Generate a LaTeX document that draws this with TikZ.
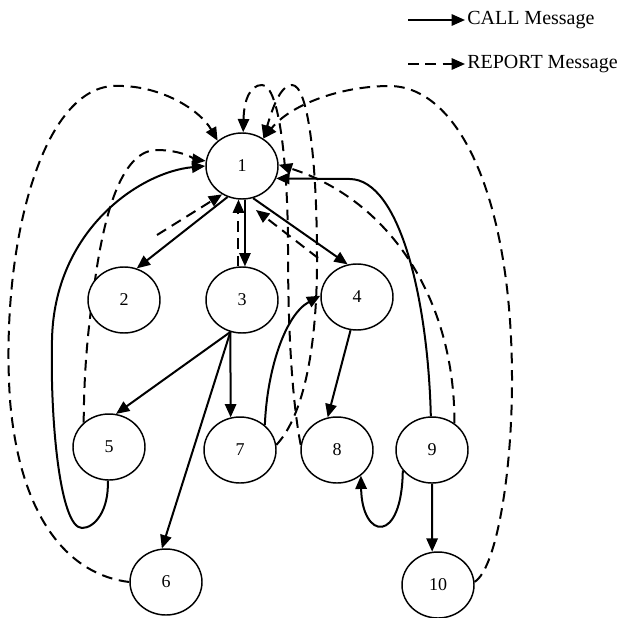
\documentclass[tikz,border=0pt]{standalone}
\usepackage{fontspec}
\setmainfont{Liberation Serif}
\usetikzlibrary{arrows.meta,shapes,positioning,calc}
\pgfdeclarelayer{bg}
\pgfsetlayers{bg,main}
\begin{document}
\begin{tikzpicture}[x=0.75pt, y=-0.75pt,
  proc/.style={ellipse, draw, line width=1.1pt, fill=white, minimum width=54pt, minimum height=49.5pt, inner sep=0pt, font=\fontsize{13.5}{16}\selectfont},
  callarrow/.style={-{Triangle[length=10pt,width=8.5pt]}, line width=1.5pt},
  reportarrow/.style={callarrow, dash pattern=on 8pt off 5pt},
  legendtxt/.style={anchor=west, inner sep=1.5pt, font=\fontsize{15}{18}\selectfont}]
\useasboundingbox (0,0) rectangle (627,617);

% processes
\node[proc] (n1) at (242,166) {1};
\node[proc] (n2) at (124,300) {2};
\node[proc] (n3) at (242,300) {3};
\node[proc] (n4) at (357,297) {4};
\node[proc] (n5) at (109,447) {5};
\node[proc] (n6) at (166,582) {6};
\node[proc] (n7) at (240,450) {7};
\node[proc] (n8) at (337,450) {8};
\node[proc] (n9) at (432,450) {9};
\node[proc] (n10) at (438,585) {10};

% legend
\coordinate (callstart) at (408,20);
\node[legendtxt] (calltxt) at (465,20) {CALL Message};
\coordinate (repstart) at (408,64);
\node[legendtxt] (reptxt) at (465,64) {REPORT Message};

\coordinate (r2a) at (157,235);
\coordinate (r4a) at (318,258);
\coordinate (r4b) at (256,210);

\begin{pgfonlayer}{bg}
\fill[white] (0,0) rectangle (627,617);
% CALL messages
\draw[callarrow] (callstart) -- (calltxt.west);
\draw[callarrow] (n1.245) -- (n2.68);
\draw[callarrow] (n1.275) -- (n3.85);
\draw[callarrow] (n1.289) -- (n4.106);
\draw[callarrow] (n3.250) -- (n5.78);
\draw[callarrow] (n3.250) -- (n7.106);
\draw[callarrow] (n3.250) -- (n6.97);
\draw[callarrow] (n4.259) -- (n8.106);
\draw[callarrow] (n7.45) .. controls (267,370) and (285,315) .. (n4.178);
\draw[callarrow] (n5.268) .. controls (109,510) and (95,528) .. (82,528) .. controls (60,528) and (50,420) .. (52,340) .. controls (54,230) and (140,172) .. (n1.180);
\draw[callarrow] (n9.215) .. controls (402,545) and (362,540) .. (n8.313);
\draw[callarrow] (n9.270) -- (n10.100);
\draw[callarrow] (n9.92) .. controls (428,300) and (400,180) .. (350,179) -- (n1.340);

% REPORT messages
\draw[reportarrow] (repstart) -- (reptxt.west);
\draw[reportarrow] (r2a) -- (n1.235);
\draw[reportarrow] (n3.96) -- (n1.264);
\draw[reportarrow] (r4a) -- (r4b);
\draw[reportarrow] (n5.136) .. controls (84,370) and (88,330) .. (93,295) .. controls (100,240) and (115,150) .. (157,150) .. controls (182,150) and (198,160) .. (n1.172);
\draw[reportarrow] (n8.172) .. controls (292,400) and (288,330) .. (288,250) .. controls (288,170) and (280,85) .. (262,85) .. controls (250,85) and (244,100) .. (n1.88);
\draw[reportarrow] (n7.8) .. controls (300,420) and (317,360) .. (317,260) .. controls (317,160) and (308,85) .. (292,85) .. controls (280,85) and (272,110) .. (n1.52);
\draw[reportarrow] (n9.50) .. controls (455,300) and (390,200) .. (n1.2);
\draw[reportarrow] (n6.180) .. controls (70,575) and (20,520) .. (10,400) .. controls (0,250) and (40,90) .. (113,86) .. controls (160,84) and (200,110) .. (n1.134);
\draw[reportarrow] (n10.5) .. controls (495,570) and (512,480) .. (512,380) .. controls (512,200) and (460,87) .. (390,86) .. controls (340,86) and (290,105) .. (n1.52);
\end{pgfonlayer}
\end{tikzpicture}
\end{document}
